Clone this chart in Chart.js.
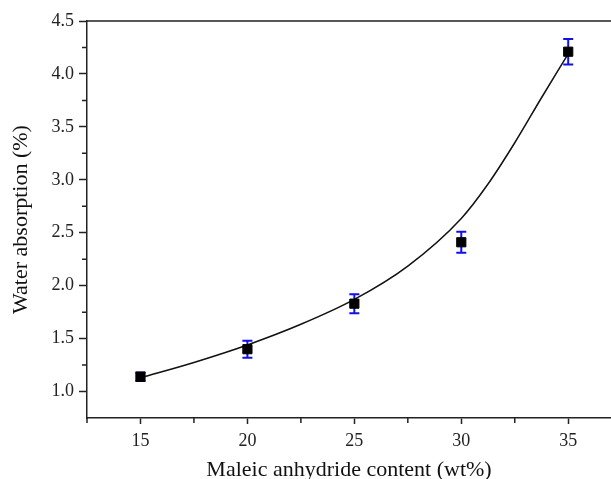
<!DOCTYPE html>
<html>
<head>
<meta charset="utf-8">
<script src="https://cdn.jsdelivr.net/npm/chart.js@4.4.1/dist/chart.umd.min.js"></script>
<style>
  html, body { margin: 0; padding: 0; background: #fff; overflow: hidden; }
  canvas { display: block; }
</style>
</head>
<body>
<canvas id="myChart" width="611" height="479"></canvas>
<script>
// measured samples
const contents = [15, 20, 25, 30, 35];
const absorption = [1.14, 1.40, 1.83, 2.41, 4.21];
const absorptionErr = [0.04, 0.08, 0.09, 0.10, 0.12];

// fitted curve, read along its length
const fitX = [15, 17.5, 20, 22.5, 25, 27.5, 30, 31.25, 32.5, 33.75, 35];
const fitY = [1.13, 1.275, 1.44, 1.635, 1.87, 2.185, 2.635, 2.96, 3.35, 3.775, 4.19];

// axis ticks
const xMajor = [15, 20, 25, 30, 35];
const xMinor = [12.5, 17.5, 22.5, 27.5, 32.5];
const yMajor = [1.0, 1.5, 2.0, 2.5, 3.0, 3.5, 4.0, 4.5];
const yMinor = [1.25, 1.75, 2.25, 2.75, 3.25, 3.75, 4.25];

const serif = '"Liberation Serif", "Times New Roman", serif';

const errorBars = {
    id: 'errorBars',
    beforeDatasetsDraw(chart) {
        const { ctx, scales: { x, y } } = chart;
        ctx.save();
        ctx.strokeStyle = '#1010e8';
        ctx.lineWidth = 2;
        contents.forEach((c, i) => {
            const px = x.getPixelForValue(c);
            const top = y.getPixelForValue(absorption[i] + absorptionErr[i]);
            const bot = y.getPixelForValue(absorption[i] - absorptionErr[i]);
            ctx.beginPath();
            ctx.moveTo(px, top); ctx.lineTo(px, bot);
            ctx.moveTo(px - 5, top); ctx.lineTo(px + 5, top);
            ctx.moveTo(px - 5, bot); ctx.lineTo(px + 5, bot);
            ctx.stroke();
        });
        ctx.restore();
    }
};

// short minor ticks plus the top frame line
const frame = {
    id: 'frame',
    afterDraw(chart) {
        const { ctx, chartArea, scales: { x, y } } = chart;
        ctx.save();
        ctx.strokeStyle = '#222';
        ctx.lineWidth = 1.5;
        ctx.beginPath();
        ctx.moveTo(chartArea.left - 0.75, chartArea.top);
        ctx.lineTo(chartArea.right, chartArea.top);
        xMinor.forEach(v => {
            const px = x.getPixelForValue(v);
            ctx.moveTo(px, chartArea.bottom);
            ctx.lineTo(px, chartArea.bottom + 5);
        });
        yMinor.forEach(v => {
            const py = y.getPixelForValue(v);
            ctx.moveTo(chartArea.left, py);
            ctx.lineTo(chartArea.left - 5, py);
        });
        ctx.stroke();
        ctx.restore();
    }
};

const config = {
    type: 'scatter',
    data: {
        datasets: [
            {
                type: 'line',
                data: fitX.map((v, i) => ({ x: v, y: fitY[i] })),
                borderColor: '#111',
                borderWidth: 1.5,
                pointRadius: 0,
                cubicInterpolationMode: 'monotone',
                fill: false,
                order: 2
            },
            {
                data: contents.map((v, i) => ({ x: v, y: absorption[i] })),
                pointStyle: 'rect',
                pointRadius: 6.5,
                backgroundColor: '#000',
                borderColor: '#000',
                borderWidth: 1,
                showLine: false,
                order: 1
            }
        ]
    },
    options: {
        responsive: false,
        animation: false,
        events: [],
        layout: { autoPadding: false, padding: { top: 21, right: 0, left: 0, bottom: 0 } },
        plugins: { legend: { display: false }, tooltip: { enabled: false } },
        scales: {
            x: {
                type: 'linear',
                min: 12.5,
                max: 37,
                afterBuildTicks: axis => { axis.ticks = xMajor.map(v => ({ value: v })); },
                afterFit: scale => {
                    scale.height = 61;
                    scale.paddingLeft = 0;
                    scale.paddingRight = 0;
                },
                border: { color: '#222', width: 1.5 },
                grid: { drawOnChartArea: false, drawTicks: true, tickLength: 6, tickColor: '#222', tickWidth: 1.5 },
                ticks: { color: '#222', padding: 6, font: { family: serif, size: 18 }, callback: v => v },
                title: {
                    display: true,
                    text: 'Maleic anhydride content (wt%)',
                    color: '#111',
                    font: { family: serif, size: 22 },
                    padding: { top: 0, bottom: -4 }
                }
            },
            y: {
                type: 'linear',
                min: 0.75,
                max: 4.5,
                afterBuildTicks: axis => { axis.ticks = yMajor.map(v => ({ value: v })); },
                afterFit: scale => {
                    scale.width = 87;
                    scale.paddingTop = 0;
                    scale.paddingBottom = 0;
                },
                border: { color: '#222', width: 1.5 },
                grid: { drawOnChartArea: false, drawTicks: true, tickLength: 8, tickColor: '#222', tickWidth: 1.5 },
                ticks: { color: '#222', padding: 5, font: { family: serif, size: 18 }, callback: v => v.toFixed(1) },
                title: {
                    display: true,
                    text: 'Water absorption (%)',
                    color: '#111',
                    font: { family: serif, size: 22 },
                    padding: { top: 8, bottom: 0 }
                }
            }
        }
    },
    plugins: [errorBars, frame]
};

const ctx = document.getElementById('myChart').getContext('2d');
const myChart = new Chart(ctx, config);
</script>
</body>
</html>
